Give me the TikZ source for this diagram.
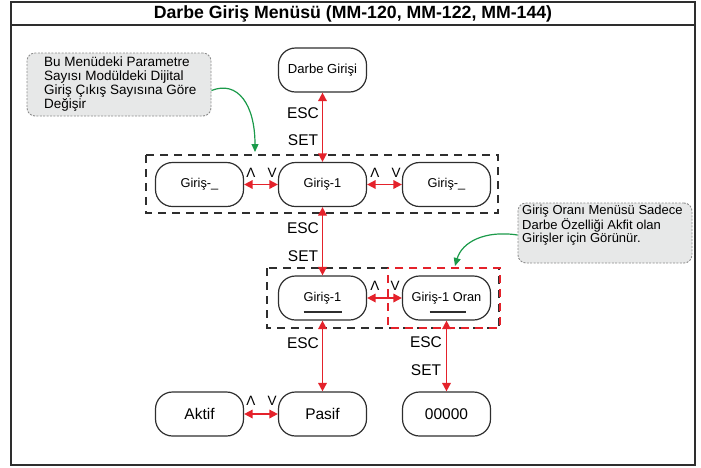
\documentclass[tikz,border=0pt]{standalone}
\usepackage{fontspec}
\setmainfont{Liberation Sans}
\usetikzlibrary{arrows.meta,calc}
\definecolor{menured}{HTML}{E4222B}
\definecolor{notegreen}{HTML}{1B9A4A}
\definecolor{notefill}{HTML}{E7E8E8}
\definecolor{noteline}{HTML}{8C8C8C}
\definecolor{ink}{HTML}{2E2E2E}
\begin{document}
\begin{tikzpicture}[x=1pt,y=-1pt,
  menubox/.style={draw=ink, line width=1.2pt, rounded corners=17pt,
    minimum width=88pt, minimum height=44pt, inner sep=0pt,
    font=\fontsize{12.8}{15}\selectfont},
  bigtext/.style={font=\fontsize{15.5}{18}\selectfont},
  groupbox/.style={draw=ink, line width=2pt, dash pattern=on 8pt off 6pt},
  keyarrow/.style={draw=menured, line width=1.7pt,
    {Triangle[length=8.5pt,width=8.5pt]}-{Triangle[length=8.5pt,width=8.5pt]}},
  keylabel/.style={font=\fontsize{15.5}{18}\selectfont, inner sep=0pt},
  navlabel/.style={font=\fontsize{13.5}{15}\selectfont, inner sep=0pt},
  notebox/.style={draw=noteline, fill=notefill, line width=0.9pt,
    dash pattern=on 2pt off 1.4pt, rounded corners=8pt, inner sep=0pt},
  notetext/.style={align=left, inner sep=0pt},
  notearrow/.style={draw=notegreen, line width=1.2pt,
    -{Triangle[length=8pt,width=7pt]}}
]
\useasboundingbox (0,0) rectangle (701,467);

% frame and heading
\draw[ink, line width=1.6pt] (11,2) rectangle (695,465);
\draw[ink, line width=1.3pt] (11,25) -- (695,25);
\node[font=\bfseries\fontsize{17.7}{20}\selectfont, inner sep=0pt] (title) at (353,14)
  {Darbe Giriş Menüsü (MM-120, MM-122, MM-144)};

% group frames
\draw[groupbox] (146,155) rectangle (498,213);
\draw[groupbox] (267,268) rectangle (499,328);
\draw[groupbox, draw=menured, dash phase=7pt] (388,268) rectangle (500,328);

% menu entries
\node[menubox, font=\fontsize{13.1}{15}\selectfont] (darbe) at (322.5,70) {Darbe Girişi};
\node[menubox] (inL) at (199.5,184.5) {Giriş-\_};
\node[menubox] (inA) at (322.5,184.5) {Giriş-1};
\node[menubox] (inR) at (446.5,184.5) {Giriş-\_};
\node[menubox] (selIn) at (322.5,298) {Giriş-1};
\node[menubox] (ratio) at (446.5,298) {Giriş-1 Oran};
\node[menubox, bigtext] (on) at (199.5,414) {Aktif};
\node[menubox, bigtext] (off) at (322.5,414) {Pasif};
\node[menubox, bigtext] (val) at (446.5,414) {00000};

% value placeholders
\draw[ink, line width=1.1pt] ($(selIn.center)+(-19,14)$) -- ($(selIn.center)+(19,14)$);
\draw[ink, line width=1.1pt] ($(ratio.center)+(-17,14)$) -- ($(ratio.center)+(19,14)$);

% ESC / SET transitions
\draw[keyarrow] (darbe) -- (inA);
\draw[keyarrow] (inA) -- (selIn);
\draw[keyarrow] (selIn) -- (off);
\draw[keyarrow] (ratio) -- (val);
\node[keylabel] (esc1) at (303,113) {ESC};
\node[keylabel] (set1) at (303,140) {SET};
\node[keylabel] (esc2) at (303,228) {ESC};
\node[keylabel] (set2) at (303,256) {SET};
\node[keylabel] (esc3) at (303,343) {ESC};
\node[keylabel] (esc4) at (426,342) {ESC};
\node[keylabel] (set4) at (426,370) {SET};

% up / down transitions
\draw[keyarrow] (inL) -- (inA);
\draw[keyarrow] (inA) -- (inR);
\draw[keyarrow] (selIn) -- (ratio);
\draw[keyarrow] (on) -- (off);
\node[navlabel] (up1) at (251,173) {Λ};
\node[navlabel] (dn1) at (272,173) {V};
\node[navlabel] (up2) at (375,173) {Λ};
\node[navlabel] (dn2) at (396,173) {V};
\node[navlabel] (up3) at (375,286) {Λ};
\node[navlabel] (dn3) at (395,286) {V};
\node[navlabel] (up4) at (251,401) {Λ};
\node[navlabel] (dn4) at (272,401) {V};

% notes
\node[notebox, minimum width=184pt, minimum height=63pt] (note1) at (119,84.5) {};
\node[notetext, font=\fontsize{13.5}{14}\selectfont, anchor=north west] (note1txt) at (44,57)
  {Bu Menüdeki Parametre\\Sayısı Modüldeki Dijital\\Giriş Çıkış Sayısına Göre\\Değişir};
\node[notebox, minimum width=174pt, minimum height=60pt] (note2) at (605,233) {};
\node[notetext, font=\fontsize{13}{13.5}\selectfont, anchor=north west] (note2txt) at (522,205)
  {Giriş Oranı Menüsü Sadece\\Darbe Özelliği Akfit olan\\Girişler için Görünür.};

\coordinate (tip1) at (255,152);
\coordinate (tip2) at (455,266);
\draw[notearrow] ($(note1.east)+(0,6)$) .. controls (238,80) and (255,105) .. (tip1);
\draw[notearrow] ($(note2.west)+(0,2)$) .. controls (485,230) and (462,242) .. (tip2);
\end{tikzpicture}
\end{document}
